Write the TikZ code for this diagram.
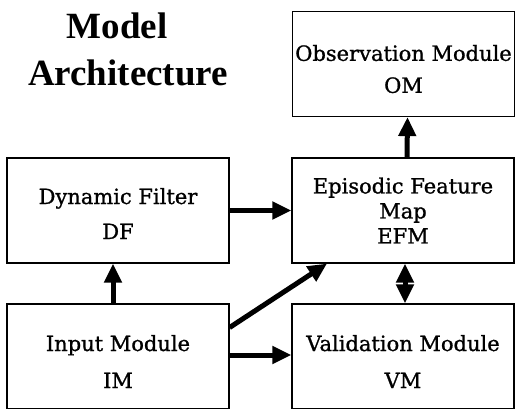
\documentclass[tikz,border=0pt]{standalone}
\usepackage{fontspec}
\usetikzlibrary{arrows.meta}
\newfontfamily\boxfont[FakeBold=1]{DejaVu Serif}
\newfontfamily\headfont{Liberation Serif}
\newcommand{\lowr}[1]{\rule{0pt}{#1}}

\begin{document}
\begin{tikzpicture}[
  x=1pt, y=1pt,
  >={Triangle[length=19pt,width=17pt]},
  module/.style={draw, line width=1.2pt, minimum width=222pt,
    minimum height=105pt, inner sep=0pt, align=center,
    font=\boxfont\fontsize{21}{25}\selectfont},
  heading/.style={anchor=base, font=\headfont\bfseries\fontsize{37}{40}\selectfont},
  flow/.style={line width=5pt}
]
  \useasboundingbox (0,0) rectangle (516,408);
  \clip (0,0) rectangle (516,408);

  \node[heading] (t1) at (117,370) {Model};
  \node[heading] (t2) at (128,323) {Architecture};

  \node[module] (om)  at (403.5,344) {\lowr{26pt}Observation Module\\[7pt]OM};
  \node[module] (df)  at (118,197.5) {\lowr{22pt}Dynamic Filter\\[10pt]DF};
  \node[module] (efm) at (403,197.5) {Episodic Feature\\Map\\EFM};
  \node[module] (im)  at (118,51.5)  {\lowr{26pt}Input Module\\[12pt]IM};
  \node[module] (vm)  at (403,51.5)  {\lowr{26pt}Validation Module\\[12pt]VM};

  \path[flow]
    ([xshift=4pt]efm.north) edge[->] ([xshift=4pt]om.south)
    (df.east) edge[->] (efm.west)
    ([xshift=-5pt]im.north) edge[->] ([xshift=-5pt]df.south)
    ([yshift=29pt]im.east) edge[->] ([xshift=-76pt]efm.south)
    ([yshift=1.5pt]im.east) edge[->] ([yshift=1.5pt]vm.west)
    ([xshift=2pt]efm.south) edge[<->] ([xshift=2pt]vm.north);
\end{tikzpicture}
\end{document}
